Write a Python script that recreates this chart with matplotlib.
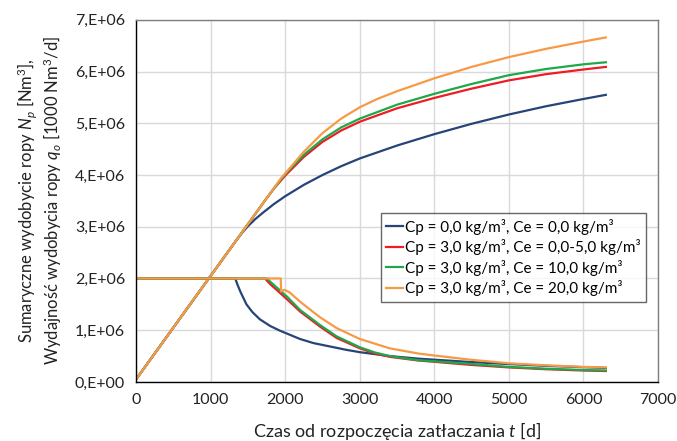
import numpy as np
import matplotlib
matplotlib.use("Agg")
import matplotlib.pyplot as plt
from matplotlib.ticker import FuncFormatter, MultipleLocator

plt.rcParams['font.family'] = ['Lato', 'DejaVu Sans']
plt.rcParams['mathtext.fontset'] = 'custom'
plt.rcParams['mathtext.rm'] = 'Lato'
plt.rcParams['mathtext.it'] = 'Lato:italic'

# cumulative production Np [E6 Nm3]
t_np_blue = [0, 1330, 1420, 1500, 1600, 1700, 1850, 2000, 2250, 2500, 2750, 3000, 3500, 4000, 4500, 5000, 5500, 6000, 6300]
np_blue = [0.05, 2.71, 2.88, 3.01, 3.15, 3.27, 3.44, 3.59, 3.81, 4.00, 4.17, 4.32, 4.57, 4.79, 4.99, 5.17, 5.33, 5.47, 5.55]
t_np_red = [0, 1730, 1850, 2000, 2250, 2500, 2750, 3000, 3500, 4000, 4500, 5000, 5500, 6000, 6300]
np_red = [0.05, 3.51, 3.74, 3.99, 4.35, 4.64, 4.86, 5.03, 5.29, 5.49, 5.67, 5.83, 5.95, 6.04, 6.09]
t_np_green = [0, 1760, 1880, 2000, 2250, 2500, 2750, 3000, 3500, 4000, 4500, 5000, 5500, 6000, 6300]
np_green = [0.05, 3.57, 3.80, 4.02, 4.39, 4.69, 4.92, 5.09, 5.36, 5.57, 5.76, 5.93, 6.05, 6.14, 6.18]
t_np_orange = [0, 1940, 2000, 2250, 2500, 2750, 3000, 3250, 3500, 4000, 4500, 5000, 5500, 6000, 6300]
np_orange = [0.05, 3.93, 4.03, 4.45, 4.81, 5.09, 5.31, 5.48, 5.62, 5.87, 6.09, 6.28, 6.44, 6.58, 6.66]

# production rate qo [E6]
t_q_blue = [0, 1330, 1360, 1400, 1480, 1560, 1660, 1800, 1930, 2198, 2380, 2820, 3000, 3400, 3780, 4480, 5000, 5500, 6000, 6300]
q_blue = [2.0, 2.0, 1.88, 1.74, 1.50, 1.35, 1.21, 1.08, 0.99, 0.83, 0.75, 0.62, 0.575, 0.50, 0.45, 0.385, 0.345, 0.31, 0.285, 0.27]
t_q_red = [0, 1730, 1760, 1806, 1900, 2000, 2200, 2466, 2690, 3000, 3200, 3400, 3780, 4480, 5000, 5500, 6000, 6300]
q_red = [2.0, 2.0, 1.95, 1.88, 1.76, 1.63, 1.36, 1.07, 0.85, 0.65, 0.55, 0.485, 0.415, 0.33, 0.28, 0.245, 0.22, 0.21]
t_q_green = [0, 1760, 1790, 1836, 1930, 2030, 2200, 2466, 2690, 3000, 3200, 3400, 3780, 4480, 5000, 5500, 6000, 6300]
q_green = [2.0, 2.0, 1.95, 1.89, 1.77, 1.64, 1.39, 1.10, 0.88, 0.67, 0.57, 0.50, 0.42, 0.35, 0.29, 0.255, 0.23, 0.22]
t_q_orange = [0, 1940, 1945, 1990, 2060, 2200, 2466, 2690, 3000, 3400, 3780, 4000, 4480, 5000, 5500, 6000, 6300]
q_orange = [2.0, 2.0, 1.75, 1.78, 1.73, 1.55, 1.25, 1.04, 0.83, 0.65, 0.55, 0.51, 0.43, 0.36, 0.32, 0.29, 0.28]

labels = ["Cp = 0,0 kg/m³, Ce = 0,0 kg/m³",
          "Cp = 3,0 kg/m³, Ce = 0,0-5,0 kg/m³",
          "Cp = 3,0 kg/m³, Ce = 10,0 kg/m³",
          "Cp = 3,0 kg/m³, Ce = 20,0 kg/m³"]
colors = ["#264478", "#ee1c25", "#1fa84a", "#f79a46"]

series = [
    (t_np_blue, np_blue, t_q_blue, q_blue),
    (t_np_red, np_red, t_q_red, q_red),
    (t_np_green, np_green, t_q_green, q_green),
    (t_np_orange, np_orange, t_q_orange, q_orange),
]

fig = plt.figure(figsize=(6.77, 4.41), dpi=100)
ax = fig.add_axes([0.201, 0.134, 0.771, 0.821])

for (tn, vn, tq, vq), c, lab in zip(series, colors, labels):
    ax.plot(tn, np.array(vn) * 1e6, color=c, lw=1.6, label=lab)
for (tn, vn, tq, vq), c in zip(series, colors):
    ax.plot(tq, np.array(vq) * 1e6, color=c, lw=1.6)

ax.set_xlim(0, 7000)
ax.set_ylim(0, 7e6)
ax.xaxis.set_major_locator(MultipleLocator(1000))
ax.yaxis.set_major_locator(MultipleLocator(1e6))
ax.yaxis.set_major_formatter(FuncFormatter(lambda v, p: "%d,E+%02d" % (round(v / 1e6), 6 if v > 0 else 0)))
ax.grid(True, color="#d9d9d9", lw=1)
ax.set_axisbelow(True)
ax.tick_params(length=0, labelsize=11.5, pad=8, colors="#222222")
for s in ["top", "right"]:
    ax.spines[s].set_color("#7f7f7f")
    ax.spines[s].set_linewidth(1.0)
for s in ["left", "bottom"]:
    ax.spines[s].set_color("#000000")
    ax.spines[s].set_linewidth(1.0)

ax.set_xlabel("Czas od rozpoczęcia zatłaczania $t$ [d]", fontsize=13, labelpad=9, color="#222222")
ax.set_ylabel("Sumaryczne wydobycie ropy $N_p$ [Nm$^3$],\nWydajność wydobycia ropy $q_o$ [1000 Nm$^3$/d]",
              fontsize=12, labelpad=8, color="#222222", linespacing=1.1)

leg = ax.legend(loc="upper left", bbox_to_anchor=(0.469, 0.466), fontsize=11,
                frameon=True, fancybox=False, handlelength=1.1, handletextpad=0.15,
                borderpad=0.35, labelspacing=0.3, borderaxespad=0)
leg.get_frame().set_edgecolor("#404040")
leg.get_frame().set_linewidth(1.0)

fig.savefig("out.png", dpi=100)
